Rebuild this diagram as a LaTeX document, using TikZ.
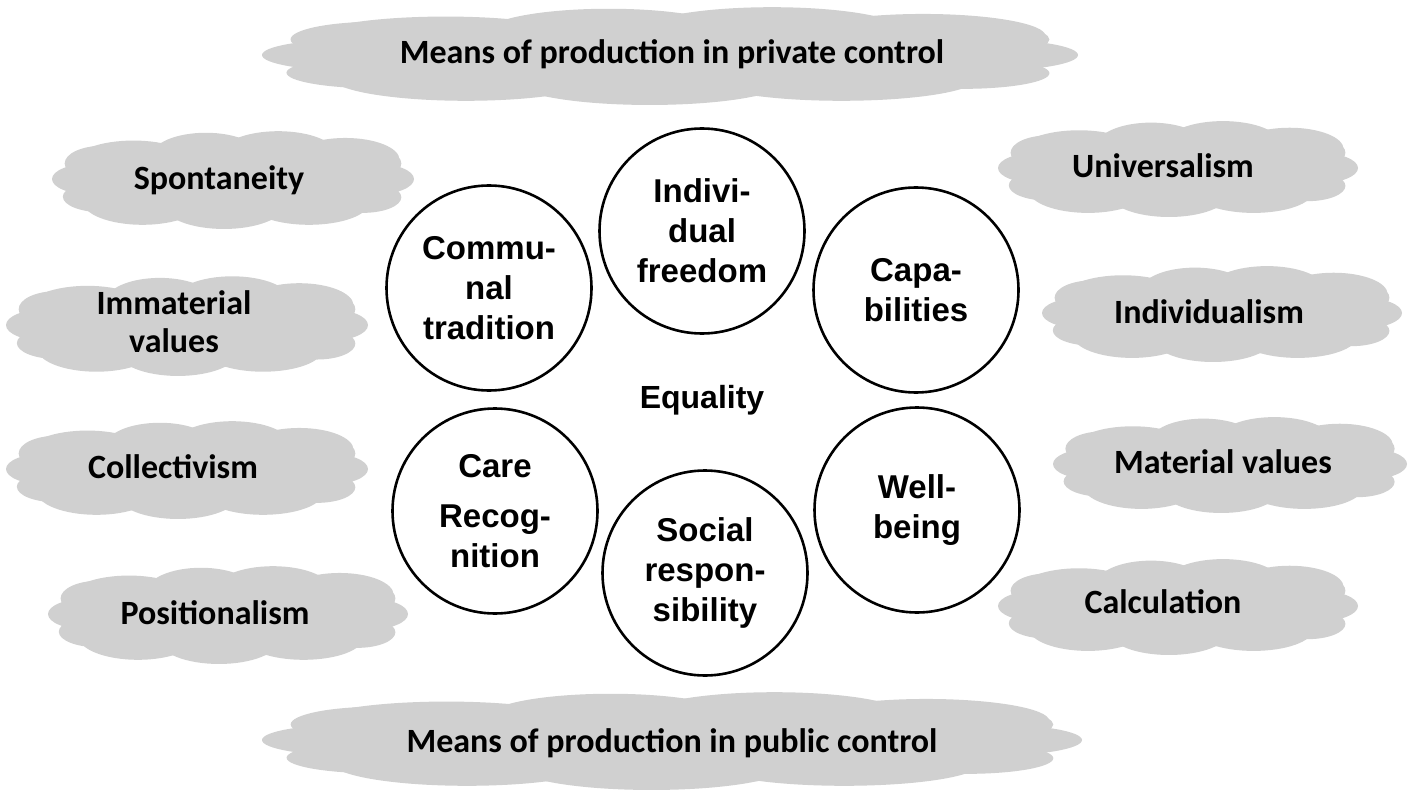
\documentclass[tikz,border=0pt]{standalone}
\usepackage{fontspec}
\setmainfont{Liberation Sans}
\newfontfamily\cloudfont{Carlito}
\definecolor{cloudgray}{RGB}{208,208,208}
\tikzset{
  pics/cloudblob/.style={code={
    \fill[cloudgray] (0,0.05) ellipse [x radius=0.88, y radius=0.78];
    % top row
    \fill[cloudgray] (-0.55,-0.30) ellipse [x radius=0.33, y radius=0.42];
    \fill[cloudgray] (-0.15,-0.42) ellipse [x radius=0.30, y radius=0.45];
    \fill[cloudgray] (0.25,-0.45) ellipse [x radius=0.32, y radius=0.45];
    \fill[cloudgray] (0.62,-0.35) ellipse [x radius=0.30, y radius=0.42];
    % left lobes
    \fill[cloudgray] (-0.72,-0.28) ellipse [x radius=0.21, y radius=0.34];
    \fill[cloudgray] (-0.78,0.02) ellipse [x radius=0.22, y radius=0.30];
    \fill[cloudgray] (-0.72,0.36) ellipse [x radius=0.22, y radius=0.30];
    % right lobes
    \fill[cloudgray] (0.73,-0.28) ellipse [x radius=0.20, y radius=0.32];
    \fill[cloudgray] (0.78,0.02) ellipse [x radius=0.22, y radius=0.30];
    \fill[cloudgray] (0.72,0.37) ellipse [x radius=0.21, y radius=0.30];
    % bottom row
    \fill[cloudgray] (-0.50,0.45) ellipse [x radius=0.33, y radius=0.45];
    \fill[cloudgray] (-0.05,0.53) ellipse [x radius=0.33, y radius=0.45];
    \fill[cloudgray] (0.42,0.48) ellipse [x radius=0.33, y radius=0.42];
  }},
  cloudtext/.style={font=\cloudfont\bfseries\fontsize{34}{38}\selectfont, align=center, inner sep=0pt},
  ring/.style={circle, draw=black, line width=2.6pt, minimum size=205pt, inner sep=0pt,
    align=center, font=\bfseries\fontsize{33}{40}\selectfont},
  eqtext/.style={font=\bfseries\fontsize{32}{40}\selectfont, inner sep=0pt}
}
\begin{document}
\begin{tikzpicture}[x=1pt,y=-1pt]
\useasboundingbox (0,0) rectangle (1423,802);
% clouds
\pic[xscale=408, yscale=52] (ctop) at (670,54) {cloudblob};
\pic[xscale=410, yscale=52] (cbot) at (672,739) {cloudblob};
\pic[xscale=181, yscale=52] (cspo) at (233,178) {cloudblob};
\pic[xscale=181, yscale=53] (cimm) at (187,324) {cloudblob};
\pic[xscale=181, yscale=52] (ccol) at (187,468) {cloudblob};
\pic[xscale=180, yscale=52] (cpos) at (228,613) {cloudblob};
\pic[xscale=180, yscale=51] (cuni) at (1178,167) {cloudblob};
\pic[xscale=180, yscale=51] (cind) at (1222,312) {cloudblob};
\pic[xscale=177, yscale=51] (cmat) at (1230,463) {cloudblob};
\pic[xscale=180, yscale=51] (ccal) at (1178,605) {cloudblob};
% cloud texts
\node[cloudtext] (ttop) at (672,54) {Means of production in private control};
\node[cloudtext] (tbot) at (672,743) {Means of production in public control};
\node[cloudtext] (tspo) at (219,180) {Spontaneity};
\node[cloudtext] (timm) at (174,322) {Immaterial\\values};
\node[cloudtext] (tcol) at (173,467) {Collectivism};
\node[cloudtext] (tpos) at (215,613) {Positionalism};
\node[cloudtext] (tuni) at (1163,166) {Universalism};
\node[cloudtext] (tind) at (1209,312) {Individualism};
\node[cloudtext] (tmat) at (1223,462) {Material values};
\node[cloudtext] (tcal) at (1163,602) {Calculation};
% circles
\node[ring] (comm) at (489,288) {Commu-\\nal\\tradition};
\node[ring] (indi) at (702,231) {Indivi-\\dual\\freedom};
\node[ring] (capa) at (916,290) {Capa-\\bilities};
\node[ring] (care) at (495,511) {Care\\[10pt]Recog-\\nition};
\node[ring] (soci) at (705,573) {Social\\respon-\\sibility};
\node[ring] (well) at (917,510) {Well-\\being};
\node[eqtext] (equa) at (702,400) {Equality};
\end{tikzpicture}
\end{document}
